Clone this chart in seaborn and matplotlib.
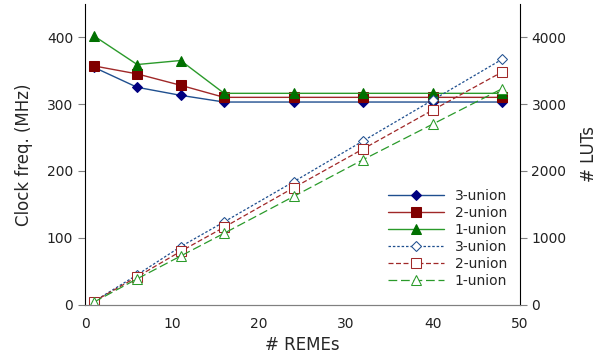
import matplotlib
matplotlib.use("Agg")
import matplotlib.pyplot as plt
import seaborn as sns
import pandas as pd

remes = [1, 6, 11, 16, 24, 32, 40, 48]
freq_3 = [355, 325, 313, 303, 303, 303, 303, 303]
freq_2 = [357, 345, 328, 310, 310, 310, 310, 310]
freq_1 = [402, 359, 365, 316, 316, 316, 316, 316]
luts_3 = [50, 450, 870, 1240, 1840, 2450, 3060, 3670]
luts_2 = [50, 420, 800, 1160, 1750, 2330, 2910, 3480]
luts_1 = [40, 390, 730, 1070, 1620, 2170, 2700, 3230]
labels = ["3-union", "2-union", "1-union"]

sns.set_style("white")
plt.rcParams['font.family'] = ['DejaVu Sans']

fig = plt.figure(figsize=(6.13, 3.6), dpi=100)
ax = fig.add_axes([0.1387, 0.153, 0.709, 0.837])
ax2 = ax.twinx()

line_cols = ["#1f4f8f", "#a02828", "#2a9a2a"]
mk_cols = ["#000080", "#800000", "#007000"]
markers = ["D", "s", "^"]
msizes = [5.5, 7, 7]

for vals, lab, lc, mc, m, ms in zip([freq_3, freq_2, freq_1], labels, line_cols, mk_cols, markers, msizes):
    sns.lineplot(x=remes, y=vals, ax=ax, color=lc, marker=m, markersize=ms,
                 markerfacecolor=mc, markeredgecolor=mc, linewidth=1.0, label=lab, legend=False)

dashes = [(2, 1.5), (4, 2), (7, 3)]
for vals, lab, lc, m, ms, d in zip([luts_3, luts_2, luts_1], labels, line_cols, markers, msizes, dashes):
    sns.lineplot(x=remes, y=vals, ax=ax2, color=lc, marker=m, markersize=ms,
                 markerfacecolor="white", markeredgecolor=lc, linewidth=0.9,
                 dashes=False, label=lab, legend=False, linestyle=(0, d))

ax.set_xlim(0, 50)
ax.set_ylim(0, 450)
ax2.set_ylim(0, 4500)
ax.set_xticks([0, 10, 20, 30, 40, 50])
ax.set_yticks([0, 100, 200, 300, 400])
ax2.set_yticks([0, 1000, 2000, 3000, 4000])

ax.set_xlabel("# REMEs", fontsize=12)
ax.set_ylabel("Clock freq. (MHz)", fontsize=12, labelpad=10)
ax2.set_ylabel("# LUTs", fontsize=12, labelpad=10)

for a in (ax, ax2):
    a.spines['top'].set_visible(False)
    a.spines['bottom'].set_color("#808080")
    a.spines['left'].set_color("black")
    a.spines['right'].set_color("black")
    a.tick_params(axis='both', direction='out', length=5, color="#808080", labelsize=10, labelcolor="#222222")
ax2.spines['left'].set_visible(False)
ax.spines['right'].set_visible(False)
ax2.spines['right'].set_visible(True)

h1, l1 = ax.get_legend_handles_labels()
h2, l2 = ax2.get_legend_handles_labels()
leg = ax2.legend(h1 + h2, l1 + l2, loc="lower right", bbox_to_anchor=(1.0, 0.015),
                 frameon=False, fontsize=10, handlelength=4, labelspacing=0.22)

fig.savefig("out.png", dpi=100)
